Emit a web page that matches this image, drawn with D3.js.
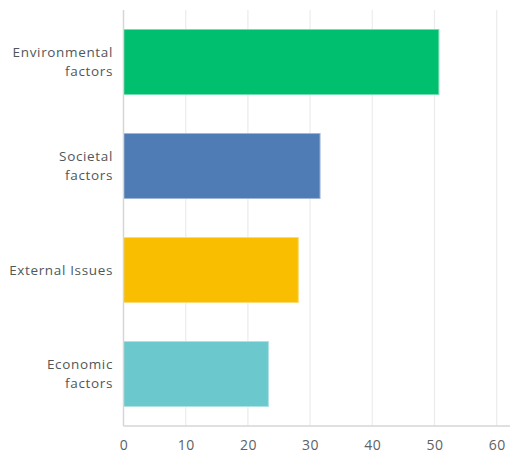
<!DOCTYPE html>
<html>
<head>
<meta charset="utf-8">
<script src="https://cdn.jsdelivr.net/npm/d3@7"></script>
<style>
  html, body { margin: 0; padding: 0; background: #fff; }
  svg { display: block; font-family: "Open Sans", "Noto Sans", sans-serif; }
</style>
</head>
<body>
<svg id="chart" width="512" height="459"></svg>
<script>
// Survey answers (percent of respondents)
const categories = [["Environmental", "factors"], ["Societal", "factors"], ["External Issues"], ["Economic", "factors"]];
const values = [50.7, 31.6, 28.1, 23.3];
const colors = ["#00bf6f", "#507cb6", "#f9be00", "#6bc8cd"];
const ticks = [0, 10, 20, 30, 40, 50, 60];

const svg = d3.select("#chart");
const margin = { top: 10, left: 123.5, bottom: 33, right: 2 };
const W = 512, H = 459;

const x = d3.scaleLinear().domain([0, 60]).range([margin.left, margin.left + 373.2]);
const y = d3.scaleBand()
  .domain(d3.range(categories.length))
  .range([margin.top, H - margin.bottom])
  .paddingInner(0.375)
  .paddingOuter(0.1875);

// vertical gridlines
svg.append("g").selectAll("line")
  .data(ticks.slice(1))
  .join("line")
  .attr("x1", d => x(d)).attr("x2", d => x(d))
  .attr("y1", margin.top).attr("y2", H - margin.bottom)
  .attr("stroke", "#ececec").attr("stroke-width", 1.2);

// bars
svg.append("g").selectAll("rect")
  .data(values)
  .join("rect")
  .attr("x", x(0))
  .attr("y", (d, i) => y(i))
  .attr("width", d => x(d) - x(0))
  .attr("height", y.bandwidth())
  .attr("fill", (d, i) => colors[i])
  .attr("stroke", (d, i) => d3.interpolateRgb(colors[i], "#fff")(0.45))
  .attr("stroke-width", 1);

// axis lines
svg.append("line")
  .attr("x1", x(0)).attr("x2", x(0))
  .attr("y1", margin.top).attr("y2", H - margin.bottom)
  .attr("stroke", "#d6d6d6").attr("stroke-width", 1.5);
svg.append("line")
  .attr("x1", x(0)).attr("x2", W - margin.right)
  .attr("y1", H - margin.bottom).attr("y2", H - margin.bottom)
  .attr("stroke", "#d6d6d6").attr("stroke-width", 1.5);

// x tick labels
const xAxis = d3.axisBottom(x).tickValues(ticks).tickSize(0).tickPadding(0);
const gx = svg.append("g")
  .attr("transform", `translate(0, ${H - 9})`)
  .call(xAxis);
gx.select(".domain").remove();
gx.selectAll("text")
  .attr("dy", 0)
  .attr("fill", "#5c6266")
  .style("font-size", "14px")
  .style("letter-spacing", "0.5px")
  .style("font-family", "\"Open Sans\", \"Noto Sans\", sans-serif");

// category labels
const lineH = 19;
const lab = svg.append("g").selectAll("text")
  .data(categories)
  .join("text")
  .attr("text-anchor", "end")
  .attr("fill", "#50575b")
  .style("font-size", "13.5px")
  .style("letter-spacing", "0.65px")
  .attr("x", 113)
  .attr("y", (d, i) => y(i) + y.bandwidth() / 2);
lab.each(function (lines) {
  const t = d3.select(this);
  const y0 = -(lines.length - 1) * lineH / 2;
  lines.forEach((s, k) => {
    t.append("tspan")
      .attr("x", 113)
      .attr("dy", k === 0 ? y0 + 4.5 : lineH)
      .text(s);
  });
});
</script>
</body>
</html>
